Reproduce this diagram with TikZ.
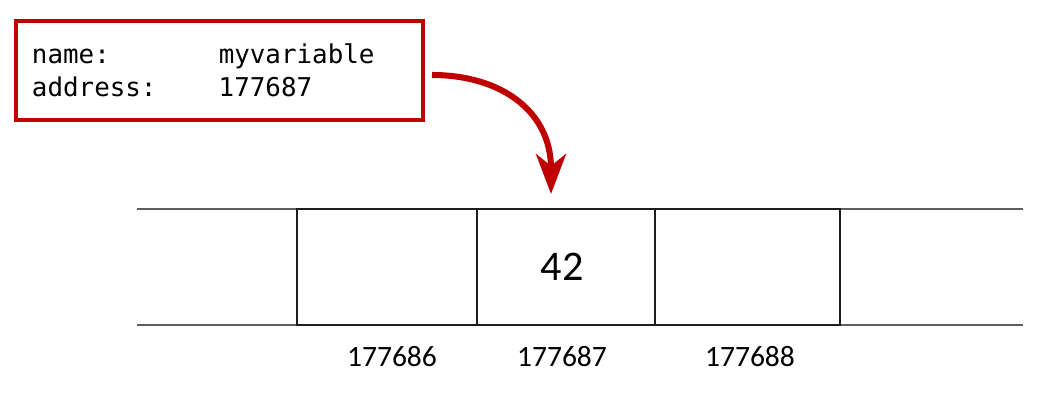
\documentclass[tikz,border=0pt]{standalone}
\usepackage{fontspec}
\setmonofont{DejaVu Sans Mono}
\newfontfamily\cellfont{Carlito}
\usepackage{xcolor}
\usetikzlibrary{arrows.meta,positioning}

\definecolor{ptrred}{HTML}{C00000}
\definecolor{railgray}{HTML}{5E5E5E}
\definecolor{cellblack}{HTML}{1E1E1E}

\begin{document}
\begin{tikzpicture}[
  x=0.025cm, y=-0.025cm,
  varbox/.style={rectangle, draw=ptrred, line width=2.4pt, minimum width=10.175cm,
                 minimum height=2.475cm, inner xsep=0.4cm, text width=9.375cm,
                 align=left, font=\ttfamily\fontsize{18.4}{23.5}\selectfont},
  memcell/.style={rectangle, draw=cellblack, line width=1.1pt, fill=white,
                  minimum height=2.9cm, inner sep=0pt, outer sep=0pt,
                  font=\cellfont\fontsize{30}{36}\selectfont},
  addr/.style={font=\cellfont\fontsize{21}{25}\selectfont, inner sep=0pt},
  rail/.style={draw=railgray, line width=2pt},
  ptr/.style={draw=ptrred, line width=4.3pt,
              -{Stealth[length=1cm, width=0.75cm, inset=0.3cm]}},
]
  \useasboundingbox (0,0) rectangle (1055,408);

  % Variable description
  \node[varbox] (var) at (219.5,70.5)
       {\makebox[7.22em][l]{name:}myvariable\\
        \makebox[7.22em][l]{address:}177687};

  % Memory rails
  \draw[rail] (137,209) -- (1023,209);
  \draw[rail] (137,325) -- (1023,325);

  % Memory cells
  \node[memcell, minimum width=4.5cm]  (c686) at (387,267) {};
  \node[memcell, minimum width=4.45cm, right=0pt of c686] (c687) {42\hspace*{0.2cm}};
  \node[memcell, minimum width=4.625cm, right=0pt of c687] (c688) {};

  % Addresses
  \node[addr] (a686) at (392,357) {177686};
  \node[addr] (a687) at (562,357) {177687};
  \node[addr] (a688) at (750,357) {177688};

  % Pointer arrow
  \coordinate (ptrfrom) at (432,75);
  \coordinate (ptrto) at (551,194);
  \draw[ptr] (ptrfrom) .. controls (502,75) and (551,112) .. (ptrto);

\end{tikzpicture}
\end{document}
